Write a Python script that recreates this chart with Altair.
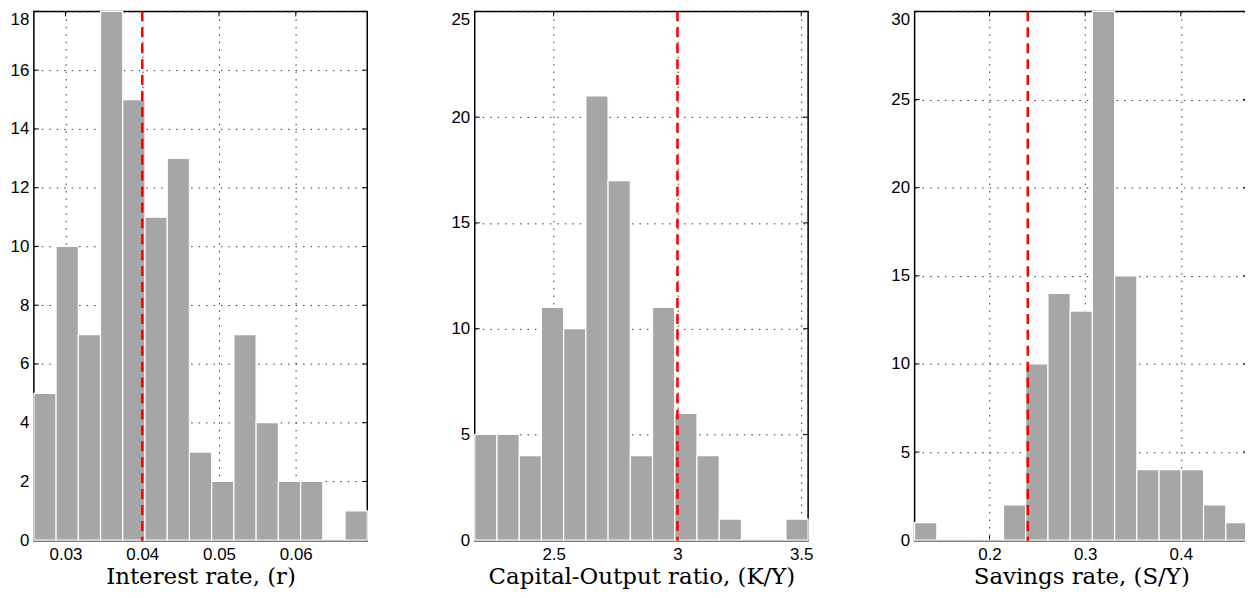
import altair as alt
import pandas as pd
import numpy as np

# Interest rate histogram
r_counts = [5, 10, 7, 18, 15, 11, 13, 3, 2, 7, 4, 2, 2, 0, 1]
r_range = [0.02588, 0.06931]
r_ref = 0.04
r_xticks = [0.03, 0.04, 0.05, 0.06]
r_yticks = [0, 2, 4, 6, 8, 10, 12, 14, 16, 18]
r_title = "Interest rate, (r)"

# Capital-output ratio histogram
ky_counts = [5, 5, 4, 11, 10, 21, 17, 4, 11, 6, 4, 1, 0, 0, 1]
ky_range = [2.181, 3.528]
ky_ref = 3.0
ky_xticks = [2.5, 3.0, 3.5]
ky_yticks = [0, 5, 10, 15, 20, 25]
ky_title = "Capital-Output ratio, (K/Y)"

# Savings rate histogram
sy_counts = [1, 0, 0, 0, 2, 10, 14, 13, 30, 15, 4, 4, 4, 2, 1]
sy_range = [0.1217, 0.4702]
sy_ref = 0.24
sy_xticks = [0.2, 0.3, 0.4]
sy_yticks = [0, 5, 10, 15, 20, 25, 30]
sy_title = "Savings rate, (S/Y)"

W, H = 335, 532
TICK = 5


def panel(counts, rng, ref, xticks, yticks, title):
    lo, hi = rng
    ymax = max(yticks)
    edges = np.linspace(lo, hi, len(counts) + 1)
    df = pd.DataFrame({"x0": edges[:-1], "x1": edges[1:], "n": counts})
    xs = alt.Scale(domain=[lo, hi], nice=False, zero=False)
    # tiny negative lower bound so only the top label is flush-aligned
    ys = alt.Scale(domain=[-ymax * 0.0012, ymax], nice=False, zero=False)
    xaxis = alt.Axis(values=xticks, format="~g", title=title)
    yaxis = alt.Axis(values=yticks, title=None, labelFlush=0.5)
    xt = pd.DataFrame({"t": xticks})
    yt = pd.DataFrame({"t": yticks})

    # inward tick marks on all four sides (matlab style box)
    tb = alt.Chart(xt).mark_rule(color="black", strokeWidth=1)
    tick_bottom = tb.encode(x=alt.X("t:Q", scale=xs, axis=xaxis),
                            y=alt.value(H), y2=alt.value(H - TICK))
    tick_top = tb.encode(x=alt.X("t:Q", scale=xs, axis=xaxis),
                         y=alt.value(0), y2=alt.value(TICK))
    tl = alt.Chart(yt).mark_rule(color="black", strokeWidth=1)
    tick_left = tl.encode(y=alt.Y("t:Q", scale=ys, axis=yaxis),
                          x=alt.value(0), x2=alt.value(TICK))
    tick_right = tl.encode(y=alt.Y("t:Q", scale=ys, axis=yaxis),
                           x=alt.value(W - TICK), x2=alt.value(W))

    bars = alt.Chart(df).mark_rect(
        color="#a6a6a6", stroke="white", strokeWidth=1.2
    ).encode(
        x=alt.X("x0:Q", scale=xs, axis=xaxis),
        x2="x1:Q",
        y=alt.Y("n:Q", scale=ys, axis=yaxis),
        y2=alt.datum(0),
    )
    rule = alt.Chart(pd.DataFrame({"v": [ref]})).mark_rule(
        color="#ff0000", strokeDash=[10, 6], strokeWidth=2.5
    ).encode(x=alt.X("v:Q", scale=xs, axis=xaxis))
    return alt.layer(tick_bottom, tick_top, tick_left, tick_right, bars, rule).properties(
        width=W, height=H
    )


p1 = panel(r_counts, r_range, r_ref, r_xticks, r_yticks, r_title)
p2 = panel(ky_counts, ky_range, ky_ref, ky_xticks, ky_yticks, ky_title)
p3 = panel(sy_counts, sy_range, sy_ref, sy_xticks, sy_yticks, sy_title)

chart = alt.hconcat(
    alt.hconcat(p1, p2, spacing=81),
    p3,
    spacing=76,
).configure_view(
    stroke="black", strokeWidth=1.5
).configure_axis(
    domain=False,
    ticks=False,
    grid=True,
    gridColor="#333333",
    gridDash=[1.5, 6],
    gridWidth=1,
    labelFont="Liberation Sans",
    labelFontSize=17,
    labelColor="black",
    labelPadding=5,
    titleFont="DejaVu Serif",
    titleFontSize=23,
    titleFontWeight="normal",
    titleColor="black",
    titlePadding=3,
).configure_axisX(
    labelPadding=6
).properties(padding={"top": 0, "left": 1, "right": -5, "bottom": 0})

chart.save("out.html", embed_options={"renderer": "svg", "actions": False})
